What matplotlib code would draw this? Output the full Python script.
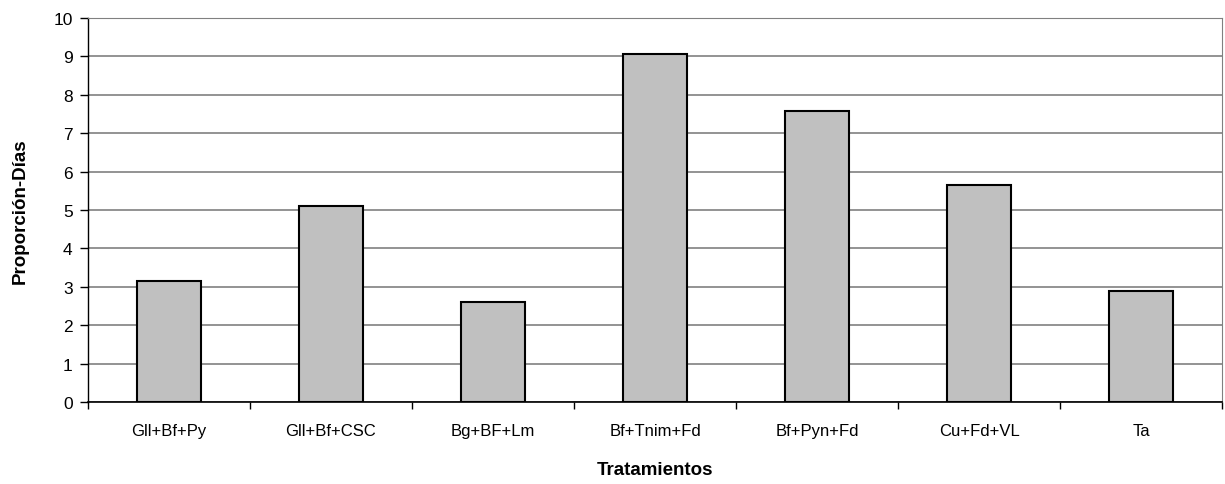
import matplotlib.pyplot as plt
import numpy as np

plt.rcParams['font.family'] = ['Liberation Sans', 'DejaVu Sans']

# Tratamientos y valores de proporción-días
tratamientos = ['Gll+Bf+Py', 'Gll+Bf+CSC', 'Bg+BF+Lm', 'Bf+Tnim+Fd',
                'Bf+Pyn+Fd', 'Cu+Fd+VL', 'Ta']
valores = [3.15, 5.1, 2.6, 9.05, 7.58, 5.65, 2.9]
y_ticks = list(range(0, 11))

fig = plt.figure(figsize=(12.25, 4.85), dpi=100)
ax = fig.add_axes([0.0718, 0.169, 0.9258, 0.792])

x = np.arange(len(tratamientos))
ax.bar(x, valores, width=0.4, color='#C0C0C0', edgecolor='black',
       linewidth=1.5, zorder=3)

ax.set_xlim(-0.5, len(tratamientos) - 0.5)
ax.set_ylim(0, 10)
ax.set_yticks(y_ticks)
ax.tick_params(axis='y', labelsize=12.5, length=6, width=1, direction='out', pad=5)

# etiquetas de categoría sin marca; marcas entre categorías
ax.set_xticks(x)
ax.set_xticklabels(tratamientos, fontsize=12)
ax.tick_params(axis='x', length=0, pad=15)
ax.set_xticks(np.arange(-0.5, len(tratamientos)), minor=True)
ax.tick_params(axis='x', which='minor', length=5, width=1, direction='out')

ax.grid(axis='y', color='#808080', linewidth=1.2, zorder=0)
ax.spines['left'].set_color('black')
ax.spines['bottom'].set_color('black')
ax.spines['left'].set_linewidth(1)
ax.spines['bottom'].set_linewidth(1.2)
ax.spines['top'].set_color('#808080')
ax.spines['right'].set_color('#808080')

ax.set_ylabel('Proporción-Días', fontsize=13.5, fontweight='bold', labelpad=18)
ax.set_xlabel('Tratamientos', fontsize=13.5, fontweight='bold', labelpad=17)

fig.savefig('out.png', dpi=100)
